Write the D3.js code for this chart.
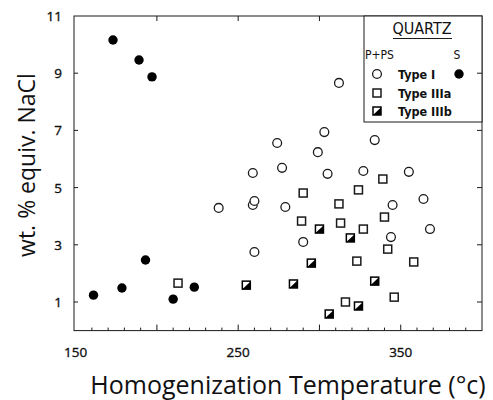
<!DOCTYPE html>
<html>
<head>
<meta charset="utf-8">
<script src="https://cdn.jsdelivr.net/npm/d3@7"></script>
<style>
  html, body { margin: 0; padding: 0; background: #fff; }
  svg { display: block; }
  .tick-label { font-family: "Open Sans", "Noto Sans", sans-serif; font-size: 13.5px; fill: #111; stroke: #111; stroke-width: 0.35px; }
  .axis-title { font-family: "Open Sans", "Noto Sans", sans-serif; fill: #111; }
  .legend-text { font-family: "Liberation Sans Narrow", "DejaVu Sans Condensed", "Liberation Sans", sans-serif; fill: #111; }
</style>
</head>
<body>
<svg id="chart" width="493" height="400"></svg>
<script>
// Fluid inclusion data: homogenization temperature (°C) vs salinity (wt. % equiv. NaCl)
const typeI_PPS_temp = [312, 303, 334, 274, 299, 277, 259, 305, 327, 355, 238, 259, 260, 279, 345, 364, 368, 344, 290, 260];
const typeI_PPS_salt = [8.66, 6.94, 6.66, 6.56, 6.24, 5.69, 5.51, 5.48, 5.58, 5.55, 4.29, 4.39, 4.53, 4.32, 4.39, 4.60, 3.55, 3.27, 3.10, 2.75];

const typeIIIa_temp = [213, 290, 324, 339, 312, 289, 313, 340, 327, 342, 323, 358, 316, 346];
const typeIIIa_salt = [1.66, 4.81, 4.92, 5.30, 4.43, 3.83, 3.76, 3.97, 3.55, 2.85, 2.43, 2.40, 1.00, 1.17];

const typeIIIb_temp = [255, 284, 300, 319, 295, 334, 324, 306];
const typeIIIb_salt = [1.59, 1.63, 3.55, 3.24, 2.36, 1.73, 0.86, 0.58];

const typeI_S_temp = [173, 189, 197, 161, 178.5, 193, 210, 223];
const typeI_S_salt = [10.16, 9.46, 8.87, 1.24, 1.49, 2.47, 1.10, 1.52];

const xTickLabels = [150, 250, 350];
const yTickLabels = [1, 3, 5, 7, 9, 11];

const svg = d3.select("#chart");
const plotL = 74, plotR = 482, plotT = 16, plotB = 330.6;

const x = d3.scaleLinear().domain([149, 400]).range([plotL, plotR]);
const y = d3.scaleLinear().domain([0, 11]).range([plotB, plotT]);

const ink = "#1a1a1a";

// Frame
svg.append("rect")
  .attr("x", plotL).attr("y", plotT)
  .attr("width", plotR - plotL).attr("height", plotB - plotT)
  .attr("fill", "none").attr("stroke", ink).attr("stroke-width", 1);

// Bottom axis: minor ticks every 10, major every 50 (pointing inward)
const minorX = d3.range(160, 400, 10);
svg.append("g").selectAll("line").data(minorX).join("line")
  .attr("x1", d => x(d)).attr("x2", d => x(d))
  .attr("y1", plotB).attr("y2", d => plotB - (d % 50 === 0 ? 6 : 3))
  .attr("stroke", ink).attr("stroke-width", 1);

// Top axis major ticks
svg.append("g").selectAll("line").data([200, 250, 300, 350]).join("line")
  .attr("x1", d => x(d)).attr("x2", d => x(d))
  .attr("y1", plotT).attr("y2", plotT + 5)
  .attr("stroke", ink).attr("stroke-width", 1);

// X tick labels
svg.append("g").selectAll("text").data(xTickLabels).join("text")
  .attr("class", "tick-label")
  .attr("x", d => x(d)).attr("y", 357)
  .attr("text-anchor", "middle")
  .text(d => d);

// Y tick labels
svg.append("g").selectAll("text").data(yTickLabels).join("text")
  .attr("class", "tick-label")
  .attr("x", 62).attr("y", d => y(d) + 5)
  .attr("text-anchor", "end")
  .text(d => d);

// Axis titles
svg.append("text")
  .attr("class", "axis-title")
  .attr("transform", `translate(35,${165}) rotate(-90)`)
  .attr("text-anchor", "middle")
  .attr("font-size", 23)
  .text("wt. % equiv. NaCl");

svg.append("text")
  .attr("class", "axis-title")
  .attr("x", 288).attr("y", 394)
  .attr("text-anchor", "middle")
  .attr("font-size", 25)
  .text("Homogenization Temperature  (°c)");

// Marker drawers
const S = 8; // square size
function openCircle(g, cx, cy) {
  g.append("circle").attr("cx", cx).attr("cy", cy).attr("r", 4.4)
    .attr("fill", "#fff").attr("stroke", ink).attr("stroke-width", 1.3);
}
function filledCircle(g, cx, cy) {
  g.append("circle").attr("cx", cx).attr("cy", cy).attr("r", 4.7)
    .attr("fill", "#000");
}
function openSquare(g, cx, cy) {
  g.append("rect").attr("x", cx - S / 2).attr("y", cy - S / 2)
    .attr("width", S).attr("height", S)
    .attr("fill", "#fff").attr("stroke", ink).attr("stroke-width", 1.5);
}
function halfSquare(g, cx, cy) {
  const x0 = cx - S / 2, y0 = cy - S / 2, x1 = cx + S / 2, y1 = cy + S / 2;
  g.append("rect").attr("x", x0).attr("y", y0).attr("width", S).attr("height", S)
    .attr("fill", "#fff").attr("stroke", "#000").attr("stroke-width", 1.5);
  g.append("path").attr("d", `M${x0},${y1}L${x1},${y0 + 0.5}L${x1},${y1}Z`)
    .attr("fill", "#000");
}

const pts = svg.append("g");
typeI_PPS_temp.forEach((t, i) => openCircle(pts, x(t), y(typeI_PPS_salt[i])));
typeIIIa_temp.forEach((t, i) => openSquare(pts, x(t), y(typeIIIa_salt[i])));
typeIIIb_temp.forEach((t, i) => halfSquare(pts, x(t), y(typeIIIb_salt[i])));
typeI_S_temp.forEach((t, i) => filledCircle(pts, x(t), y(typeI_S_salt[i])));

// Legend box
const lg = svg.append("g");
lg.append("rect").attr("x", 364).attr("y", plotT).attr("width", plotR - 364).attr("height", 122 - plotT)
  .attr("fill", "#fff").attr("stroke", ink).attr("stroke-width", 1);
lg.append("text").attr("class", "legend-text").attr("x", 422).attr("y", 34)
  .attr("text-anchor", "middle").attr("font-size", 16).text("QUARTZ");
lg.append("line").attr("x1", 393).attr("x2", 452).attr("y1", 38.5).attr("y2", 38.5)
  .attr("stroke", ink).attr("stroke-width", 1);
lg.append("text").attr("class", "legend-text").attr("x", 365).attr("y", 59)
  .attr("font-size", 12).text("P+PS");
lg.append("text").attr("class", "legend-text").attr("x", 457).attr("y", 59)
  .attr("text-anchor", "middle").attr("font-size", 12).text("S");

const legendRows = ["Type I", "Type IIIa", "Type IIIb"];
const rowY = [74, 93, 111];
openCircle(lg, 377, rowY[0]);
filledCircle(lg, 459, rowY[0]);
openSquare(lg, 377, rowY[1]);
halfSquare(lg, 377, rowY[2]);
lg.selectAll("text.row").data(legendRows).join("text")
  .attr("class", "legend-text row")
  .attr("x", 398).attr("y", (d, i) => rowY[i] + 4.5)
  .attr("font-size", 12.5).attr("font-weight", "bold")
  .text(d => d);

// Left and right axis ticks (inward), drawn over the legend
svg.append("g").selectAll("line").data(yTickLabels.filter(v => v < 11)).join("line")
  .attr("x1", plotL).attr("x2", plotL + 4)
  .attr("y1", d => y(d)).attr("y2", d => y(d))
  .attr("stroke", ink).attr("stroke-width", 1);
svg.append("g").selectAll("line").data(yTickLabels.filter(v => v < 11)).join("line")
  .attr("x1", plotR).attr("x2", plotR - 5)
  .attr("y1", d => y(d)).attr("y2", d => y(d))
  .attr("stroke", ink).attr("stroke-width", 1);
</script>
</body>
</html>
